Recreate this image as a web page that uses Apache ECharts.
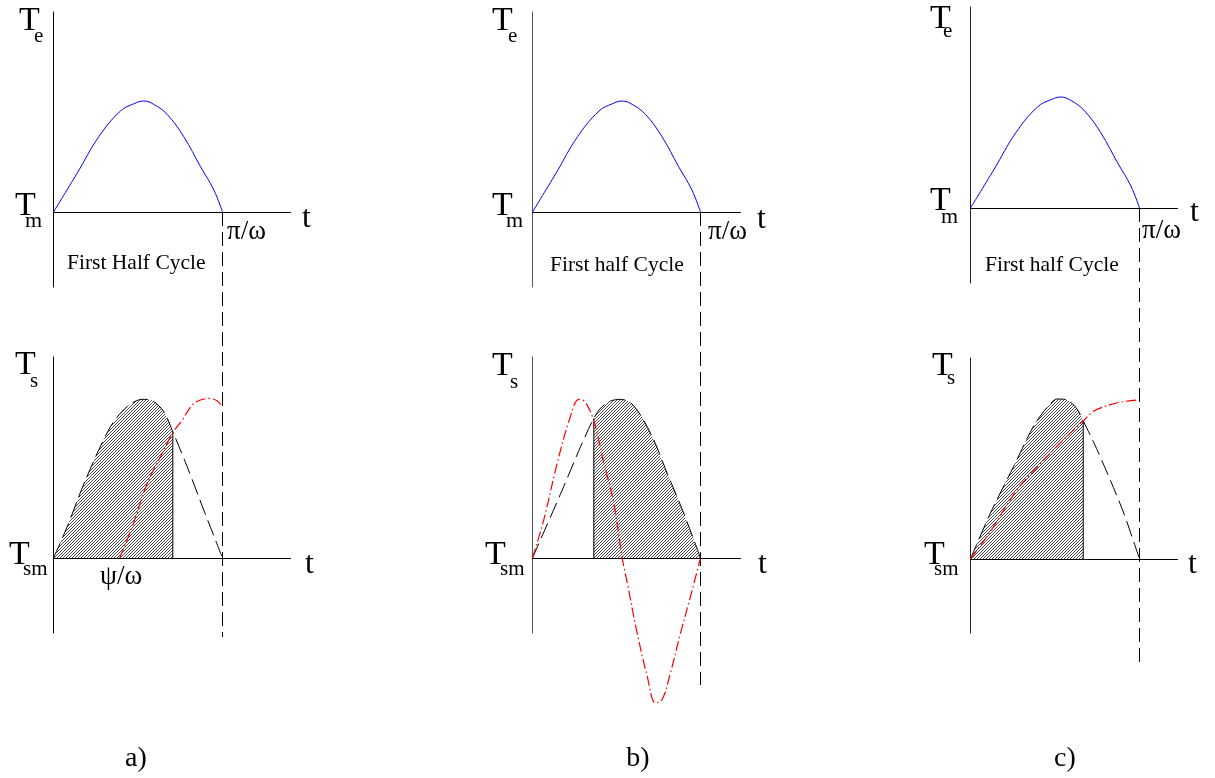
<!DOCTYPE html>
<html>
<head>
<meta charset="utf-8">
<title>Te / Ts first half cycle</title>
<script src="https://cdn.jsdelivr.net/npm/echarts@6/dist/echarts.min.js"></script>
<style>
    html, body { margin: 0; padding: 0; background: #fff; }
    #main { width: 1215px; height: 778px; }
</style>
</head>
<body>
<div id="main"></div>
<script>
// t measured in units of pi/omega, torques in units of their peak

// electrical torque Te (same in a, b, c)
var teT   = [0, 0.14, 0.268, 0.396, 0.475, 0.534, 0.593, 0.672, 0.771, 0.87, 0.949, 1];
var teVal = [0, 0.35, 0.678, 0.91, 0.975, 1.0, 0.97, 0.88, 0.678, 0.408, 0.198, 0];

// shaft torque Ts, dashed black
var tsAT   = [0, 0.081, 0.189, 0.337, 0.436, 0.525, 0.584, 0.653, 0.706, 0.791, 0.889, 1];
var tsAVal = [0, 0.197, 0.49, 0.826, 0.952, 0.998, 0.99, 0.92, 0.794, 0.574, 0.302, 0];
var tsBT   = [0, 0.186, 0.286, 0.365, 0.405, 0.464, 0.524, 0.583, 0.643, 0.722, 0.802, 0.901, 1];
var tsBVal = [0, 0.45, 0.70, 0.879, 0.942, 0.987, 0.998, 0.977, 0.899, 0.742, 0.532, 0.28, 0];
var tsCT   = [0, 0.118, 0.256, 0.374, 0.454, 0.513, 0.572, 0.631, 0.667, 0.73, 0.809, 0.907, 1];
var tsCVal = [0, 0.287, 0.58, 0.832, 0.948, 1.0, 0.994, 0.937, 0.863, 0.727, 0.538, 0.286, 0];

// red dash-dot curves
var redAT   = [0.391, 0.466, 0.555, 0.653, 0.706, 0.762, 0.821, 0.870, 0.929, 0.969, 1.0];
var redAVal = [0, 0.197, 0.47, 0.679, 0.788, 0.868, 0.962, 0.994, 1.004, 0.987, 0.952];
var redBT   = [0, 0.067, 0.147, 0.216, 0.276, 0.306, 0.345, 0.375, 0.425, 0.484, 0.534, 0.564, 0.623, 0.683, 0.732, 0.772, 0.821, 0.881, 0.940, 1];
var redBVal = [0, 0.24, 0.596, 0.857, 0.998, 0.989, 0.92, 0.826, 0.595, 0.344, 0, -0.157, -0.472, -0.745, -0.912, -0.89, -0.723, -0.472, -0.243, 0];
var redCT   = [0, 0.118, 0.276, 0.414, 0.552, 0.667, 0.730, 0.839, 0.927, 1.0];
var redCVal = [0, 0.172, 0.434, 0.596, 0.748, 0.862, 0.925, 0.968, 0.987, 0.995];

// hatched interval [from, to]
var hatchA = [0, 0.706];
var hatchB = [0.365, 1];
var hatchC = [0, 0.667];

var halfCycle = 1; // pi/omega

// pixel layout of the three columns
var panels = [
    {x0: 53,  xPi: 222,  xEnd: 290,  top: {base: 212, y0: 12, y1: 287, peak: 101}, bot: {base: 558, y0: 357, y1: 633, peak: 399}, dashEnd: 637,
     ts: [tsAT, tsAVal], red: [redAT, redAVal], hatch: hatchA, axisColor: '#000'},
    {x0: 532, xPi: 700,  xEnd: 740,  top: {base: 212, y0: 12, y1: 287, peak: 101}, bot: {base: 558, y0: 357, y1: 633, peak: 399}, dashEnd: 685,
     ts: [tsBT, tsBVal], red: [redBT, redBVal], hatch: hatchB, axisColor: '#555'},
    {x0: 970, xPi: 1139, xEnd: 1177, top: {base: 208, y0: 7,  y1: 283, peak: 97},  bot: {base: 559, y0: 358, y1: 633, peak: 399}, dashEnd: 665,
     ts: [tsCT, tsCVal], red: [redCT, redCVal], hatch: hatchC, axisColor: '#222'}
];

// hatch pattern ////
var hatchCanvas = document.createElement('canvas');
hatchCanvas.width = 3;
hatchCanvas.height = 3;
var hctx = hatchCanvas.getContext('2d');
hctx.fillStyle = '#fff';
hctx.fillRect(0, 0, 3, 3);
hctx.fillStyle = '#4a4a4a';
for (var k = 0; k < 3; k++) {
    hctx.fillRect(k, 2 - k, 1, 1);
}

function pairs(xs, ys) {
    return xs.map(function (x, i) { return [x, ys[i]]; });
}
function slice(xs, ys, lo, hi) {
    var out = [];
    for (var i = 0; i < xs.length; i++) {
        if (xs[i] >= lo - 1e-9 && xs[i] <= hi + 1e-9) out.push([xs[i], ys[i]]);
    }
    return out;
}
function valueAt(xs, ys, x) {
    for (var i = 0; i < xs.length; i++) {
        if (Math.abs(xs[i] - x) < 1e-9) return ys[i];
    }
    return 0;
}

var grids = [], xAxes = [], yAxes = [], series = [];

panels.forEach(function (p, pi) {
    var unitX = p.xPi - p.x0;
    [p.top, p.bot].forEach(function (g) {
        var unitY = g.base - g.peak;
        // half pixel shift keeps the vertical dashed lines crisp
        grids.push({left: p.x0 + 0.5, top: g.y0, width: p.xEnd - p.x0, height: g.y1 - g.y0});
        var idx = grids.length - 1;
        xAxes.push({
            type: 'value', gridIndex: idx, min: 0, max: (p.xEnd - p.x0) / unitX,
            axisLine: {onZero: true, lineStyle: {color: '#000', width: 1}},
            axisTick: {show: false}, axisLabel: {show: false}, splitLine: {show: false}
        });
        yAxes.push({
            type: 'value', gridIndex: idx,
            min: -(g.y1 - g.base) / unitY, max: (g.base - g.y0) / unitY,
            axisLine: {show: true, lineStyle: {color: p.axisColor, width: 1}},
            axisTick: {show: false}, axisLabel: {show: false}, splitLine: {show: false}
        });
    });
    var gt = pi * 2, gb = pi * 2 + 1;

    // Te
    series.push({
        type: 'line', xAxisIndex: gt, yAxisIndex: gt, data: pairs(teT, teVal),
        symbol: 'none', smooth: 0.4, lineStyle: {color: '#0000ff', width: 1}
    });

    // hatched area
    var hd = slice(p.ts[0], p.ts[1], p.hatch[0], p.hatch[1]);
    series.push({
        type: 'line', xAxisIndex: gb, yAxisIndex: gb, data: hd, z: 1,
        symbol: 'none', smooth: 0.3, lineStyle: {width: 0},
        areaStyle: {color: {image: hatchCanvas, repeat: 'repeat'}, opacity: 1}
    });
    // solid edge of the hatched area
    var cut = p.hatch[0] > 0 ? p.hatch[0] : p.hatch[1];
    series.push({
        type: 'line', xAxisIndex: gb, yAxisIndex: gb, z: 3,
        data: [[cut, 0], [cut, valueAt(p.ts[0], p.ts[1], cut)]],
        symbol: 'none', lineStyle: {color: '#000', width: 1}
    });
    // Ts dashed
    series.push({
        type: 'line', xAxisIndex: gb, yAxisIndex: gb, data: pairs(p.ts[0], p.ts[1]), z: 3,
        symbol: 'none', smooth: 0.3, lineStyle: {color: '#000', width: 1, type: [16, 6]}
    });
    // red dash-dot
    series.push({
        type: 'line', xAxisIndex: gb, yAxisIndex: gb, data: pairs(p.red[0], p.red[1]), z: 4,
        symbol: 'none', smooth: 0.35, clip: false,
        lineStyle: {color: '#ff0000', width: 1.2, type: [10, 3, 1.5, 3]}
    });
    // pi/omega dashed line running through both plots
    var uy = p.bot.base - p.bot.peak;
    series.push({
        type: 'line', xAxisIndex: gb, yAxisIndex: gb, clip: false, z: 2,
        data: [[halfCycle, (p.bot.base - p.top.base) / uy], [halfCycle, -(p.dashEnd - p.bot.base) / uy]],
        symbol: 'none', lineStyle: {color: '#000', width: 1, type: [14, 6]}
    });
});

// text labels
var serif = '"Liberation Serif", "DejaVu Serif", serif';
function txt(s, x, base, size, align) {
    return {
        type: 'text', x: x, y: base - 0.34 * size, silent: true,
        style: {
            text: s, font: size + 'px ' + serif, fill: '#000',
            align: align || 'left', textAlign: align || 'left',
            verticalAlign: 'middle', textVerticalAlign: 'middle'
        }
    };
}

var labels = [
    // a)
    txt('T', 19, 33, 34), txt('e', 34, 44, 21),
    txt('T', 15, 218, 34), txt('m', 25, 229, 22),
    txt('t', 302, 229, 32), txt('π/ω', 227, 241, 27),
    txt('First Half Cycle', 67, 271, 21.5),
    txt('T', 15, 377, 34), txt('s', 30, 389, 21),
    txt('T', 9, 567, 34), txt('sm', 23, 577, 21),
    txt('ψ/ω', 100, 586, 27), txt('t', 305, 575, 32),
    txt('a)', 136, 768, 28, 'center'),
    // b)
    txt('T', 492, 33, 34), txt('e', 508, 44, 21),
    txt('T', 492, 218, 34), txt('m', 506, 229, 22),
    txt('t', 757, 230, 32), txt('π/ω', 708, 241, 27),
    txt('First half Cycle', 550, 273, 21.5),
    txt('T', 492, 378, 34), txt('s', 510, 390, 21),
    txt('T', 485, 567, 34), txt('sm', 500, 577, 21),
    txt('t', 758, 575, 32),
    txt('b)', 638, 768, 28, 'center'),
    // c)
    txt('T', 930, 31, 34), txt('e', 943, 39, 21),
    txt('T', 930, 213, 34), txt('m', 941, 225, 22),
    txt('t', 1190, 223, 32), txt('π/ω', 1142, 240, 27),
    txt('First half Cycle', 985, 273, 21.5),
    txt('T', 932, 378, 34), txt('s', 947, 386, 21),
    txt('T', 924, 567, 34), txt('sm', 934, 577, 21),
    txt('t', 1188, 575, 32),
    txt('c)', 1065, 768, 28, 'center')
];

var chart = echarts.init(document.getElementById('main'), null, {renderer: 'canvas'});
chart.setOption({
    animation: false,
    backgroundColor: '#fff',
    grid: grids,
    xAxis: xAxes,
    yAxis: yAxes,
    series: series,
    graphic: labels
});
</script>
</body>
</html>
